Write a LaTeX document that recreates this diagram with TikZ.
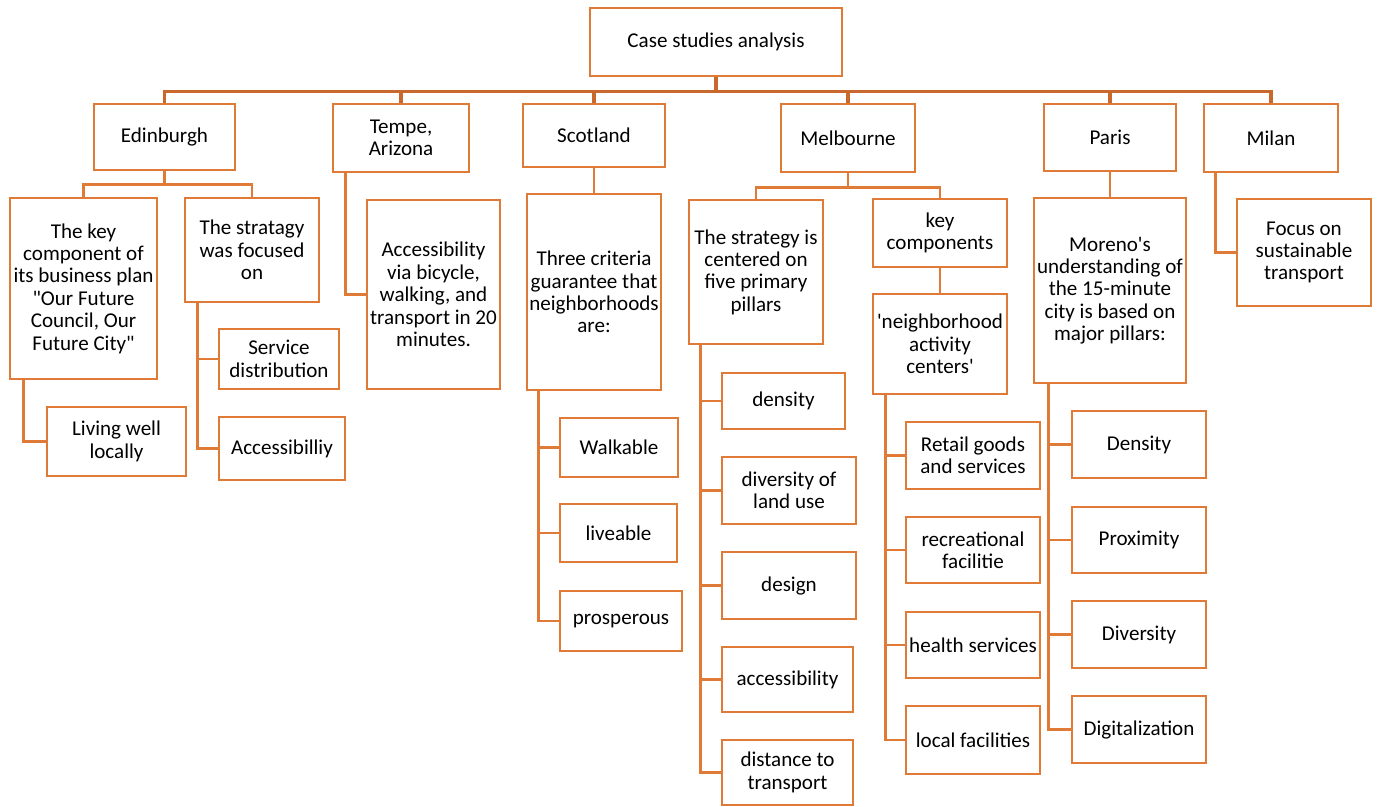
\documentclass[tikz,border=0pt]{standalone}
\usepackage{fontspec}
\setmainfont{Carlito}[Ligatures=TeXOff]
\usepackage{tikz}
\usetikzlibrary{positioning}
\definecolor{boxorange}{RGB}{224,122,55}
\definecolor{busorange}{RGB}{200,104,44}

\begin{document}
\begin{tikzpicture}[x=0.75pt,y=-0.75pt,
         box/.style={rectangle,draw=boxorange,line width=2.2pt,align=center,inner sep=0pt,
                     font=\fontsize{15.8}{16.8}\selectfont},
         sz/.style 2 args={minimum width=#1*0.75pt,minimum height=#2*0.75pt},
         link/.style={draw=boxorange,line width=2.2pt},
         bus/.style={draw=busorange,line width=2.4pt}]

     \useasboundingbox (0,0) rectangle (1380,806);

     % top level
     \node[box,sz={252}{68}] (root) at (716,42) {Case studies analysis};
     \node[box,sz={141}{66}] (edin) at (164.5,137) {Edinburgh};
     \node[box,sz={136}{68}] (tempe) at (401,138) {Tempe,\\Arizona};
     \node[box,sz={142}{63}] (scot) at (594,135.5) {Scotland};
     \node[box,sz={134}{68}] (melb) at (848,138) {Melbourne};
     \node[box,sz={132}{67}] (paris) at (1110,137.5) {Paris};
     \node[box,sz={134}{68}] (milan) at (1271,138) {Milan};

     \foreach \n in {edin,tempe,scot,melb,paris,milan}
         \draw[bus] (root.south) -- ++(0,14) -| (\n.north);

     % Edinburgh
     \node[box,sz={147}{181}] (edKey) at (83.5,288.5) {The key\\component of\\its business plan\\"Our Future\\Council, Our\\Future City"};
     \node[box,sz={134}{104}] (edStrat) at (252,250) {The stratagy\\was focused\\on};
     \node[box,sz={139}{69}] (edLiving) at (116.5,441.5) {Living well\\locally};
     \node[box,sz={120}{60}] (edServ) at (279,359) {Service\\distribution};
     \node[box,sz={126}{63}] (edAcc) at (282,448.5) {Accessibilliy};

     \draw[link] (edin.south) -- ++(0,13) -| (edKey.north);
     \draw[link] (edin.south) -- ++(0,13) -| (edStrat.north);
     \draw[link] (edKey.south west) ++(15,0) |- (edLiving.west);
     \foreach \n in {edServ,edAcc}
         \draw[link] (edStrat.south west) ++(14,0) |- (\n.west);

     % Tempe
     \node[box,sz={133}{189}] (tpAcc) at (433.5,294.5) {Accessibility\\via bicycle,\\walking, and\\transport in 20\\minutes.};
     \draw[link] (tempe.south west) ++(14,0) |- (tpAcc.west);

     % Scotland
     \node[box,sz={134}{196}] (scCrit) at (594,292) {Three criteria\\guarantee that\\neighborhoods\\are:};
     \node[box,sz={118}{59}] (scWalk) at (619,447.5) {Walkable};
     \node[box,sz={117}{58}] (scLive) at (618.5,533) {liveable};
     \node[box,sz={122}{60}] (scPros) at (621,621) {prosperous};

     \draw[link] (scot) -- (scCrit);
     \foreach \n in {scWalk,scLive,scPros}
         \draw[link] (scCrit.south west) ++(13,0) |- (\n.west);

     % Melbourne
     \node[box,sz={134}{144}] (mbStrat) at (756,272) {The strategy is\\centered on\\five primary\\pillars};
     \node[box,sz={134}{68}] (mbKey) at (940,233) {key\\components};
     \node[box,sz={134}{100}] (mbNeigh) at (940,344) {'neighborhood\\activity\\centers'};
     \node[box,sz={123}{56}] (mbDens) at (783.5,401) {density};
     \node[box,sz={134}{67}] (mbDiv) at (789,490.5) {diversity of\\land use};
     \node[box,sz={134}{67}] (mbDes) at (789,585.5) {design};
     \node[box,sz={131}{65}] (mbAcc) at (787.5,679.5) {accessibility};
     \node[box,sz={131}{65}] (mbDist) at (787.5,772.5) {distance to\\transport};
     \node[box,sz={134}{67}] (mbRetail) at (973,455.5) {Retail goods\\and services};
     \node[box,sz={134}{66}] (mbRec) at (973,550) {recreational\\facilitie};
     \node[box,sz={134}{66}] (mbHealth) at (973,645) {health services};
     \node[box,sz={134}{68}] (mbLocal) at (973,740) {local facilities};

     \draw[link] (melb.south) -- ++(0,14) -| (mbStrat.north);
     \draw[link] (melb.south) -- ++(0,14) -| (mbKey.north);
     \draw[link] (mbKey) -- (mbNeigh);
     \foreach \n in {mbDens,mbDiv,mbDes,mbAcc,mbDist}
         \draw[link] (mbStrat.south west) ++(13,0) |- (\n.west);
     \foreach \n in {mbRetail,mbRec,mbHealth,mbLocal}
         \draw[link] (mbNeigh.south west) ++(14,0) |- (\n.west);

     % Paris
     \node[box,sz={152}{185}] (paMor) at (1110,290.5) {Moreno's\\understanding of\\the 15-minute\\city is based on\\major pillars:};
     \node[box,sz={134}{67}] (paDens) at (1139,444.5) {Density};
     \node[box,sz={134}{66}] (paProx) at (1139,540) {Proximity};
     \node[box,sz={134}{67}] (paDiv) at (1139,634.5) {Diversity};
     \node[box,sz={134}{67}] (paDig) at (1139,729.5) {Digitalization};

     \draw[link] (paris) -- (paMor);
     \foreach \n in {paDens,paProx,paDiv,paDig}
         \draw[link] (paMor.south west) ++(16,0) |- (\n.west);

     % Milan
     \node[box,sz={134}{107}] (miFocus) at (1304,252.5) {Focus on\\sustainable\\transport};
     \draw[link] (milan.south west) ++(13,0) |- (miFocus.west);
 \end{tikzpicture}
\end{document}
